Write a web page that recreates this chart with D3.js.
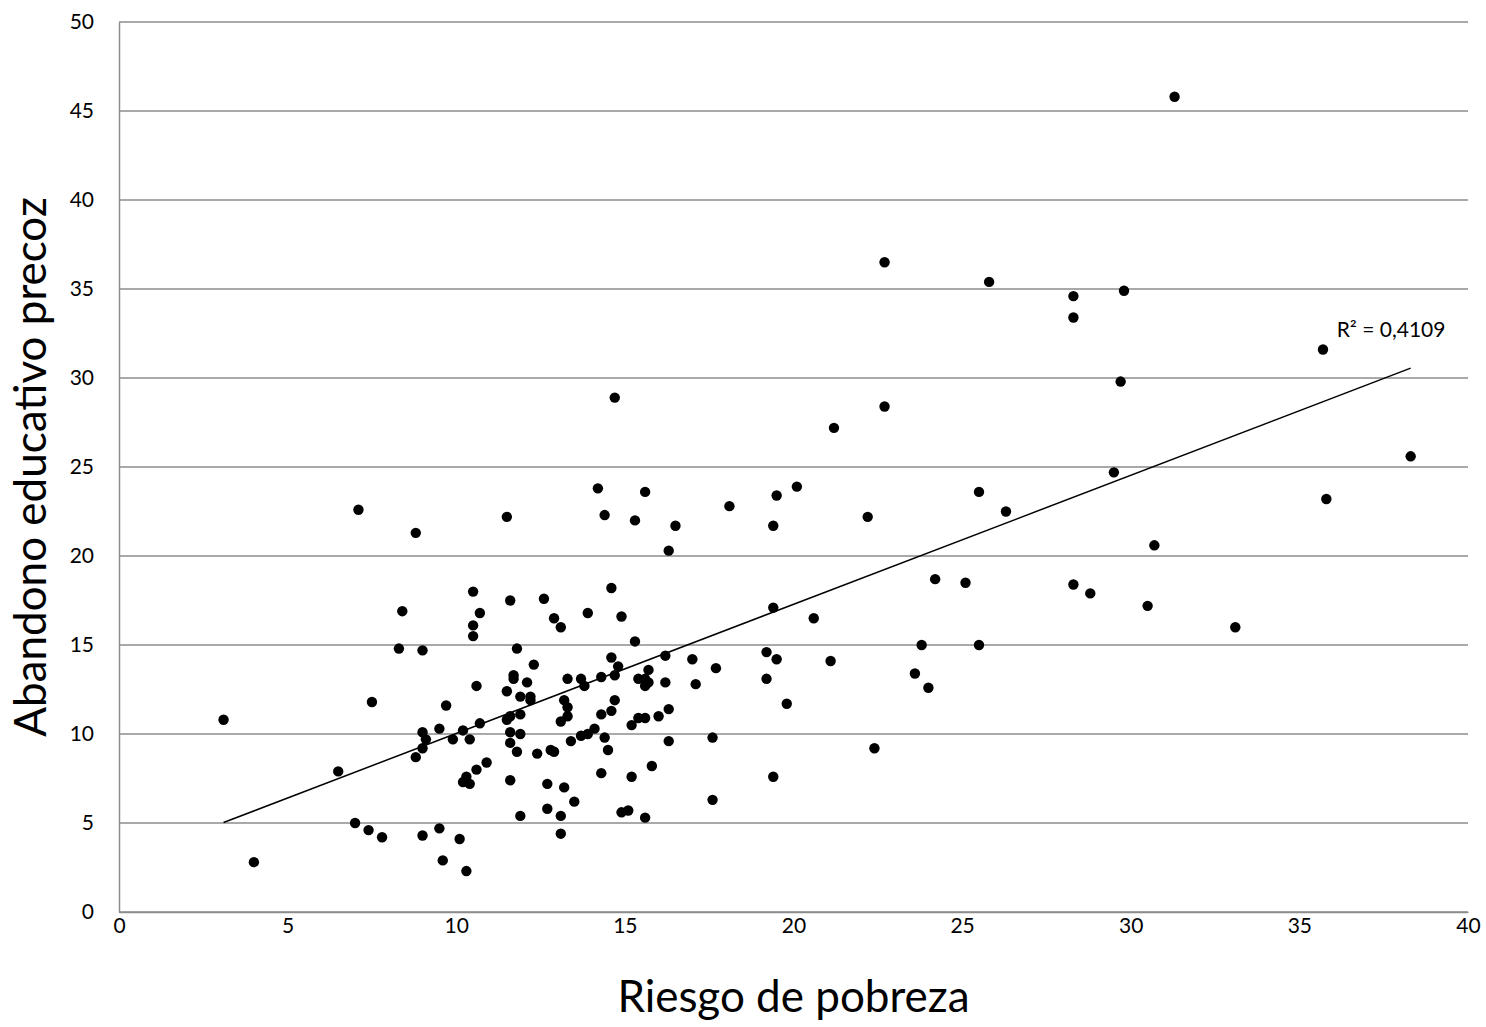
<!DOCTYPE html>
<html>
<head>
<meta charset="utf-8">
<script src="https://cdn.jsdelivr.net/npm/d3@7"></script>
<style>
  body { margin: 0; background: #fff; }
  text { font-family: Lato, "Open Sans", sans-serif; }
</style>
</head>
<body>
<div id="chart"></div>
<script>
// riesgo de pobreza (x) vs abandono educativo precoz (y)
const pobreza = [
  3.1, 4.0, 6.5, 7.1, 7.0, 7.4, 7.5, 7.8, 8.3, 8.4,
  8.8, 8.8, 9.0, 9.0, 9.0, 9.1, 9.0, 9.5, 9.5, 9.6,
  9.7, 9.9, 10.1, 10.2, 10.2, 10.3, 10.4, 10.4, 10.3, 10.5,
  10.5, 10.5, 10.6, 10.6, 10.7, 10.7, 10.9, 11.5, 11.5, 11.5,
  11.6, 11.6, 11.6, 11.6, 11.6, 11.7, 11.7, 11.8, 11.8, 11.9,
  11.9, 11.9, 11.9, 12.1, 12.2, 12.2, 12.3, 12.4, 12.6, 12.7,
  12.7, 12.8, 12.9, 12.9, 13.1, 13.1, 13.1, 13.1, 13.2, 13.2,
  13.3, 13.3, 13.3, 13.4, 13.5, 13.7, 13.7, 13.8, 13.9, 13.9,
  14.1, 14.2, 14.3, 14.3, 14.3, 14.4, 14.4, 14.5, 14.6, 14.6,
  14.6, 14.7, 14.7, 14.7, 14.8, 14.9, 14.9, 15.1, 15.2, 15.2,
  15.3, 15.3, 15.4, 15.4, 15.6, 15.6, 15.6, 15.6, 15.6, 15.7,
  15.7, 15.8, 16.0, 16.2, 16.2, 16.3, 16.3, 16.3, 16.5, 17.0,
  17.1, 17.6, 17.6, 17.7, 18.1, 19.2, 19.2, 19.4, 19.4, 19.4,
  19.5, 19.5, 19.8, 20.1, 20.6, 21.1, 21.2, 22.2, 22.4, 22.7,
  22.7, 23.6, 23.8, 24.0, 24.2, 25.1, 25.5, 25.5, 25.8, 26.3,
  28.3, 28.3, 28.3, 28.8, 29.5, 29.7, 29.8, 30.5, 30.7, 31.3,
  33.1, 35.7, 35.8, 38.3
];
const abandono = [
  10.8, 2.8, 7.9, 22.6, 5.0, 4.6, 11.8, 4.2, 14.8, 16.9,
  21.3, 8.7, 14.7, 10.1, 9.2, 9.7, 4.3, 10.3, 4.7, 2.9,
  11.6, 9.7, 4.1, 10.2, 7.3, 7.6, 7.2, 9.7, 2.3, 18.0,
  16.1, 15.5, 12.7, 8.0, 10.6, 16.8, 8.4, 22.2, 12.4, 10.8,
  17.5, 7.4, 9.5, 10.1, 11.0, 13.3, 13.1, 9.0, 14.8, 11.1,
  10.0, 5.4, 12.1, 12.9, 12.1, 11.9, 13.9, 8.9, 17.6, 7.2,
  5.8, 9.1, 16.5, 9.0, 16.0, 10.7, 5.4, 4.4, 11.9, 7.0,
  13.1, 11.5, 11.0, 9.6, 6.2, 13.1, 9.9, 12.7, 16.8, 10.0,
  10.3, 23.8, 11.1, 7.8, 13.2, 9.8, 22.3, 9.1, 18.2, 14.3,
  11.3, 28.9, 11.9, 13.3, 13.8, 16.6, 5.6, 5.7, 10.5, 7.6,
  22.0, 15.2, 13.1, 10.9, 23.6, 10.9, 5.3, 12.7, 13.1, 13.6,
  12.9, 8.2, 11.0, 14.4, 12.9, 20.3, 9.6, 11.4, 21.7, 14.2,
  12.8, 9.8, 6.3, 13.7, 22.8, 14.6, 13.1, 17.1, 21.7, 7.6,
  23.4, 14.2, 11.7, 23.9, 16.5, 14.1, 27.2, 22.2, 9.2, 36.5,
  28.4, 13.4, 15.0, 12.6, 18.7, 18.5, 23.6, 15.0, 35.4, 22.5,
  34.6, 33.4, 18.4, 17.9, 24.7, 29.8, 34.9, 17.2, 20.6, 45.8,
  16.0, 31.6, 23.2, 25.6
];
const xTicks = [0, 5, 10, 15, 20, 25, 30, 35, 40];
const yTicks = [0, 5, 10, 15, 20, 25, 30, 35, 40, 45, 50];
const r2Label = "R² = 0,4109";

const W = 1486, H = 1027;
const margin = { top: 22, right: 18, bottom: 115, left: 119 };
const width = W - margin.left - margin.right,
      height = H - margin.top - margin.bottom;

const data = pobreza.map((x, i) => ({ x: x, y: abandono[i] }));

const svg = d3.select("#chart").append("svg")
  .attr("width", W)
  .attr("height", H);

const g = svg.append("g")
  .attr("transform", `translate(${margin.left},${margin.top})`);

const x = d3.scaleLinear().domain([0, 40]).range([0, width]);
const y = d3.scaleLinear().domain([0, 50]).range([height, 0]);

// horizontal gridlines
g.selectAll(".grid")
  .data(yTicks)
  .join("line")
  .attr("class", "grid")
  .attr("x1", 0)
  .attr("x2", width)
  .attr("y1", d => y(d))
  .attr("y2", d => y(d))
  .attr("stroke", "#8c8c8c")
  .attr("stroke-width", 1.5);

// axes (no tick marks, just labels)
const yAxis = g.append("g")
  .call(d3.axisLeft(y).tickValues(yTicks).tickSize(0).tickPadding(25).tickFormat(d3.format("d")));
yAxis.attr("font-size", 21).attr("font-family", "Lato, 'Open Sans', sans-serif");
yAxis.select(".domain").attr("stroke", "#8c8c8c").attr("stroke-width", 1.5);
yAxis.selectAll("text").attr("fill", "#000");

const xAxis = g.append("g")
  .attr("transform", `translate(0,${height})`)
  .call(d3.axisBottom(x).tickValues(xTicks).tickSize(0).tickPadding(6).tickFormat(d3.format("d")));
xAxis.attr("font-size", 21).attr("font-family", "Lato, 'Open Sans', sans-serif");
xAxis.select(".domain").attr("stroke", "#8c8c8c").attr("stroke-width", 1.5);
xAxis.selectAll("text").attr("fill", "#000");

// linear trend, least squares on the points
const mx = d3.mean(data, d => d.x), my = d3.mean(data, d => d.y);
const slope = d3.sum(data, d => (d.x - mx) * (d.y - my)) / d3.sum(data, d => (d.x - mx) ** 2);
const inter = my - slope * mx;
const xmin = d3.min(pobreza), xmax = d3.max(pobreza);

g.append("line")
  .attr("x1", x(xmin))
  .attr("y1", y(inter + slope * xmin))
  .attr("x2", x(xmax))
  .attr("y2", y(inter + slope * xmax))
  .attr("stroke", "#000")
  .attr("stroke-width", 1.5);

// points
g.selectAll(".dot")
  .data(data)
  .join("circle")
  .attr("class", "dot")
  .attr("cx", d => x(d.x))
  .attr("cy", d => y(d.y))
  .attr("r", 5.2)
  .attr("fill", "#000");

// R² label near the end of the trendline
g.append("text")
  .attr("x", x(xmax) - 74)
  .attr("y", y(inter + slope * xmax) - 31)
  .attr("font-size", "21px")
  .text(r2Label);

// axis titles
svg.append("text")
  .attr("x", margin.left + width / 2)
  .attr("y", 1012)
  .attr("text-anchor", "middle")
  .attr("font-size", "44px")
  .text("Riesgo de pobreza");

svg.append("text")
  .attr("transform", `translate(46,${margin.top + height / 2}) rotate(-90)`)
  .attr("text-anchor", "middle")
  .attr("font-size", "44px")
  .text("Abandono educativo precoz");
</script>
</body>
</html>
